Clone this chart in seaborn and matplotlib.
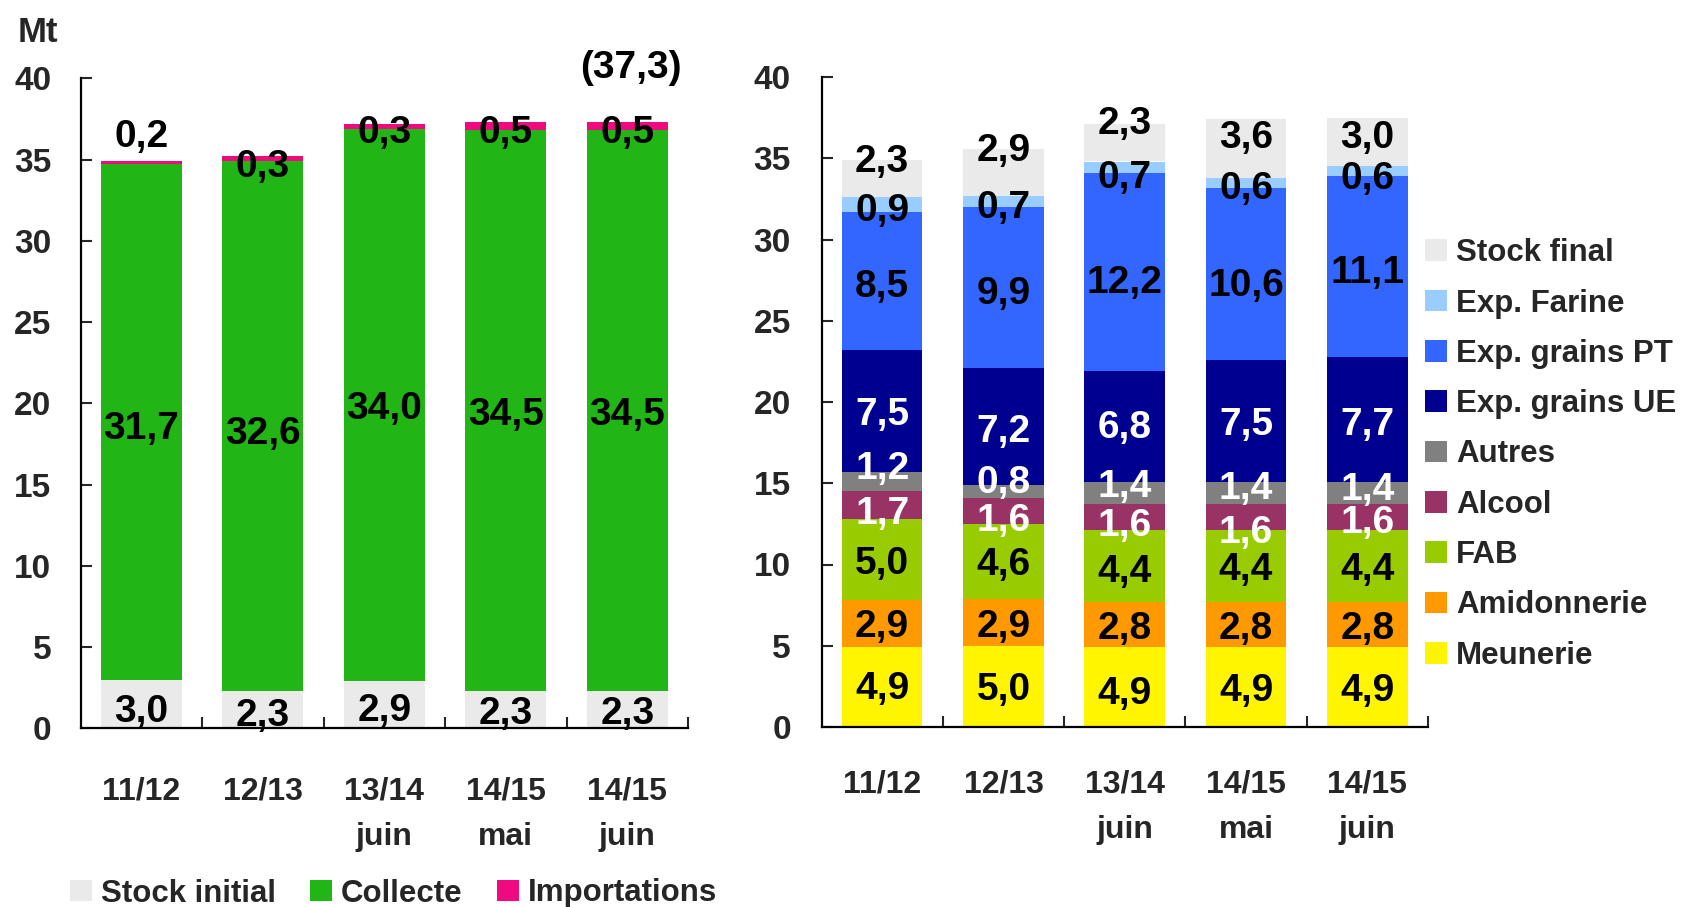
import numpy as np
import pandas as pd
import matplotlib
matplotlib.use("Agg")
import matplotlib.pyplot as plt
import matplotlib.transforms as mtransforms
from matplotlib.patches import Patch
import seaborn as sns

# ---------------- data ----------------
campagnes = ["11/12", "12/13", "13/14\njuin", "14/15\nmai", "14/15\njuin"]

# left chart (ressources), bottom -> top
stock_initial = [3.0, 2.3, 2.9, 2.3, 2.3]
collecte = [31.7, 32.6, 34.0, 34.5, 34.5]
importations = [0.2, 0.3, 0.3, 0.5, 0.5]
total_note = "(37,3)"
left_names = ["Stock initial", "Collecte", "Importations"]

# right chart (emplois), bottom -> top
meunerie = [4.9, 5.0, 4.9, 4.9, 4.9]
amidonnerie = [2.9, 2.9, 2.8, 2.8, 2.8]
fab = [5.0, 4.6, 4.4, 4.4, 4.4]
alcool = [1.7, 1.6, 1.6, 1.6, 1.6]
autres = [1.2, 0.8, 1.4, 1.4, 1.4]
exp_grains_ue = [7.5, 7.2, 6.8, 7.5, 7.7]
exp_grains_pt = [8.5, 9.9, 12.2, 10.6, 11.1]
exp_farine = [0.9, 0.7, 0.7, 0.6, 0.6]
stock_final = [2.3, 2.9, 2.3, 3.6, 3.0]
right_names = ["Meunerie", "Amidonnerie", "FAB", "Alcool", "Autres",
               "Exp. grains UE", "Exp. grains PT", "Exp. Farine", "Stock final"]

yticks = [0, 5, 10, 15, 20, 25, 30, 35, 40]
unit_label = "Mt"

# ---------------- style ----------------
left_colors = ["#EAEAEA", "#21B515", "#F00A80"]
left_text = ["black", "black", "black"]
right_colors = ["#FFF500", "#FF9900", "#99CC00", "#993366", "#808080",
                "#000090", "#3366FF", "#99CCFF", "#EAEAEA"]
right_text = ["black", "black", "black", "white", "white",
              "white", "black", "black", "black"]

# label nudges (layout only, in data units, relative to segment centre)
left_nudge = [[-0.27, -0.13, -0.15, -0.02, -0.02],
              [-0.17, -0.25, 0.0, 0.0, 0.0],
              [1.85, -0.28, -0.15, -0.15, -0.15]]
right_nudge = [[0.15, 0, -0.15, 0, 0],
               [0.05, -0.05, 0, 0, 0],
               [0, 0, -0.1, 0, 0],
               [-0.3, -0.35, -0.3, -0.7, -0.12],
               [1.0, 0.75, 0.6, 0.5, 0.4],
               [0, -0.1, 0.15, 0, -0.15],
               [-0.15, -0.15, -0.45, -0.5, -0.15],
               [-0.15, -0.15, -0.45, -0.15, -0.2],
               [1.25, 1.55, 1.4, 0.9, 0.5]]

sns.set_style("white")
FONT = ["Liberation Sans", "DejaVu Sans"]
plt.rcParams["font.family"] = FONT
plt.rcParams["font.weight"] = "bold"

W, H = 1686, 907
fig = plt.figure(figsize=(W / 100, H / 100), dpi=100)

ax_l = fig.add_axes([80.5 / W, 1 - 728.3 / H, 607.5 / W, 650 / H])
ax_r = fig.add_axes([821.5 / W, 1 - 727 / H, 606.5 / W, 650 / H])

VAL_FS = 28


def fmt(v):
    return f"{v:.1f}".replace(".", ",")


def vlabel(ax, x, y, s, color, size=VAL_FS):
    tr = mtransforms.offset_copy(ax.transData, fig=fig, y=-0.36 * size, units="points")
    ax.text(x, y, s, ha="center", va="baseline", transform=tr, color=color,
            fontsize=size, fontweight="bold", clip_on=False, zorder=5)


def stacked(ax, layers, colors, tcolors, nudges):
    bottom = np.zeros(len(campagnes))
    for vals, col, tc, nd in zip(layers, colors, tcolors, nudges):
        vals = np.asarray(vals, dtype=float)
        df = pd.DataFrame({"campagne": campagnes, "val": vals})
        sns.barplot(data=df, x="campagne", y="val", order=campagnes,
                    bottom=bottom.copy(), color=col, saturation=1,
                    width=0.665, errorbar=None, linewidth=0, edgecolor="none", ax=ax)
        for i, v in enumerate(vals):
            vlabel(ax, i, bottom[i] + v / 2 + nd[i], fmt(v), tc)
        bottom += vals
    return bottom


def style_axes(ax, xpad, ypad):
    ax.set_xlim(-0.5, len(campagnes) - 0.5)
    ax.set_ylim(0, 40)
    ax.set_yticks(yticks)
    ax.set_yticklabels([str(t) for t in yticks])
    ax.set_xlabel("")
    ax.set_ylabel("")
    for s in ["top", "right"]:
        ax.spines[s].set_visible(False)
    for s in ["left", "bottom"]:
        ax.spines[s].set_linewidth(1.6)
        ax.spines[s].set_color("black")
    ax.tick_params(axis="y", direction="in", length=8, width=1.5, pad=ypad,
                   labelsize=24, left=True)
    ax.tick_params(axis="x", which="major", length=0, pad=xpad, labelsize=23)
    ax.set_xticks(np.arange(len(campagnes)) + 0.5, minor=True)
    ax.tick_params(axis="x", which="minor", direction="in", length=8, width=1.5, bottom=True)
    for lab in ax.get_xticklabels():
        lab.set_linespacing(1.66)
        lab.set_fontweight("bold")
    for lab in ax.get_yticklabels():
        lab.set_fontweight("bold")
    ax.grid(False)


stacked(ax_l, [stock_initial, collecte, importations], left_colors, left_text, left_nudge)
stacked(ax_r, [meunerie, amidonnerie, fab, alcool, autres, exp_grains_ue,
               exp_grains_pt, exp_farine, stock_final],
        right_colors, right_text, right_nudge)

style_axes(ax_l, 35, 21)
style_axes(ax_r, 30.5, 22)

vlabel(ax_l, 4.03, 40.85, total_note, "black")
fig.text(37.6 / W, 1 - 32 / H, unit_label, ha="center", va="center",
         fontsize=25, fontweight="bold")

LEG_FS = 22.5
left_handles = [Patch(facecolor=c, edgecolor="none") for c in left_colors]
fig.legend(left_handles, left_names, loc="center left",
           bbox_to_anchor=(70 / W, 1 - 893.5 / H), ncol=3, frameon=False,
           handlelength=0.69, handleheight=0.69,
           handletextpad=0.3, columnspacing=1.1, borderpad=0, borderaxespad=0,
           prop={"weight": "bold", "size": LEG_FS, "family": FONT})

right_handles = [Patch(facecolor=c, edgecolor="none") for c in right_colors[::-1]]
fig.legend(right_handles, right_names[::-1], loc="center left",
           bbox_to_anchor=(1425 / W, 1 - 454.5 / H), ncol=1, frameon=False,
           handlelength=0.69, handleheight=0.69, handletextpad=0.3,
           labelspacing=0.65, borderpad=0, borderaxespad=0,
           prop={"weight": "bold", "size": LEG_FS, "family": FONT})

fig.savefig("out.png", dpi=100)
